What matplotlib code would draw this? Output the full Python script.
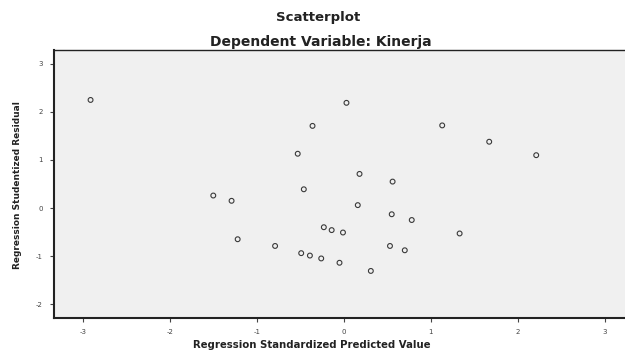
import matplotlib
matplotlib.use("Agg")
import matplotlib.pyplot as plt

# Regression Standardized Predicted Value
pred = [-2.91, 0.03, -0.36, 1.13, 1.67, 2.21, -0.53, 0.18, 0.56, -0.46,
        -1.50, -1.29, 0.16, 0.55, 0.78, -0.23, -0.14, -0.01, 1.33, -1.22,
        -0.79, 0.53, 0.70, -0.49, -0.39, -0.26, -0.05, 0.31]
# Regression Studentized Residual
resid = [2.25, 2.19, 1.71, 1.72, 1.38, 1.10, 1.13, 0.71, 0.55, 0.39,
         0.26, 0.15, 0.06, -0.13, -0.25, -0.40, -0.46, -0.51, -0.53, -0.65,
         -0.79, -0.79, -0.88, -0.94, -0.99, -1.05, -1.14, -1.31]

xticks = [-3, -2, -1, 0, 1, 2, 3]
yticks = [-2, -1, 0, 1, 2, 3]

fig = plt.figure(figsize=(6.25, 3.52), dpi=100)
fig.patch.set_facecolor("white")
ax = fig.add_axes([54/625, 1-318/352, (625-54)/625, (318-50)/352])
ax.set_facecolor("#f0f0f0")

ax.scatter(pred, resid, s=12, facecolors="none", edgecolors="#3a3a3a", linewidths=0.8, zorder=3)

ax.set_xlim(-3.33, 3.23)
ax.set_ylim(-2.29, 3.29)
ax.set_xticks(xticks)
ax.set_yticks(yticks)
ax.set_xticklabels([str(v) for v in xticks])
ax.set_yticklabels([str(v) for v in yticks])
ax.tick_params(axis="both", direction="out", length=3, width=0.8, colors="#444444",
               labelsize=5, labelcolor="#444444")
ax.tick_params(axis="x", pad=5)
ax.tick_params(axis="y", pad=5)

ax.spines["right"].set_visible(False)
ax.spines["left"].set_linewidth(1.5)
ax.spines["bottom"].set_linewidth(1.5)
ax.spines["top"].set_linewidth(1.0)
for s in ["left", "bottom", "top"]:
    ax.spines[s].set_color("#222222")

fig.text(318/625, 1-18/352, "Scatterplot", ha="center", va="center",
         fontsize=9.5, fontweight="bold", color="#222222")
fig.text(321/625, 1-42/352, "Dependent Variable: Kinerja", ha="center", va="center",
         fontsize=10, fontweight="bold", color="#222222")
fig.text(312/625, 1-345/352, "Regression Standardized Predicted Value", ha="center", va="center",
         fontsize=7.3, fontweight="bold", color="#222222")
fig.text(18/625, 1-185/352, "Regression Studentized Residual", ha="center", va="center",
         rotation=90, fontsize=6.5, fontweight="bold", color="#222222")

fig.savefig("out.png", dpi=100)
